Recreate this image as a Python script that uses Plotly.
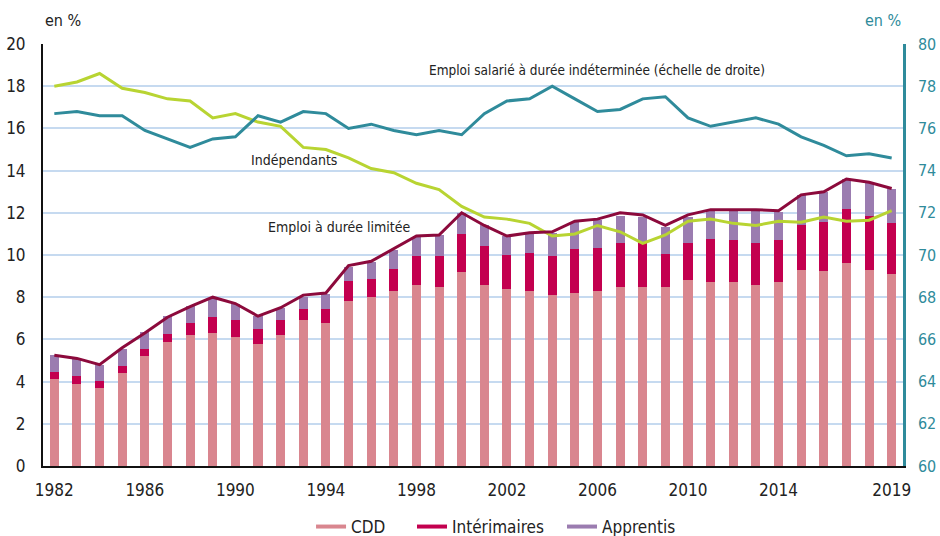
import plotly.graph_objects as go

years = list(range(1982, 2020))

cdd = [4.1, 3.9, 3.7, 4.4, 5.2, 5.9, 6.2, 6.3, 6.1, 5.8, 6.2, 6.9, 6.8, 7.8, 8.0, 8.3,
       8.6, 8.5, 9.2, 8.6, 8.4, 8.3, 8.1, 8.2, 8.3, 8.5, 8.5, 8.5, 8.8, 8.7, 8.7, 8.6,
       8.7, 9.3, 9.25, 9.6, 9.3, 9.1]
interim = [0.35, 0.35, 0.35, 0.35, 0.35, 0.35, 0.6, 0.75, 0.8, 0.7, 0.7, 0.55, 0.65, 0.95, 0.85, 1.05,
           1.35, 1.45, 1.8, 1.85, 1.6, 1.8, 1.85, 2.1, 2.05, 2.05, 2.05, 1.55, 1.75, 2.05, 2.0, 1.95,
           2.0, 2.1, 2.3, 2.6, 2.55, 2.4]
apprentis = [0.8, 0.8, 0.75, 0.8, 0.8, 0.85, 0.8, 0.9, 0.8, 0.6, 0.6, 0.55, 0.7, 0.7, 0.8, 0.9,
             0.9, 1.0, 1.0, 0.95, 0.9, 0.95, 1.1, 1.25, 1.3, 1.3, 1.25, 1.3, 1.25, 1.35, 1.45, 1.55,
             1.35, 1.45, 1.45, 1.4, 1.6, 1.65]
emploi_duree_limitee = [5.25, 5.1, 4.8, 5.6, 6.3, 7.05, 7.55, 8.0, 7.7, 7.1, 7.5, 8.1, 8.2, 9.5, 9.7, 10.3,
                        10.9, 10.95, 12.0, 11.4, 10.9, 11.05, 11.1, 11.6, 11.7, 12.0, 11.9, 11.4, 11.9, 12.15,
                        12.15, 12.15, 12.1, 12.85, 13.0, 13.6, 13.45, 13.15]
independants = [18.0, 18.2, 18.6, 17.9, 17.7, 17.4, 17.3, 16.5, 16.7, 16.3, 16.1, 15.1, 15.0, 14.6, 14.1, 13.9,
                13.4, 13.1, 12.3, 11.8, 11.7, 11.5, 10.9, 11.0, 11.4, 11.1, 10.55, 10.95, 11.6, 11.7,
                11.5, 11.4, 11.6, 11.55, 11.8, 11.6, 11.65, 12.1]
cdi = [76.7, 76.8, 76.6, 76.6, 75.9, 75.5, 75.1, 75.5, 75.6, 76.6, 76.3, 76.8, 76.7, 76.0, 76.2, 75.9,
       75.7, 75.9, 75.7, 76.7, 77.3, 77.4, 78.0, 77.4, 76.8, 76.9, 77.4, 77.5, 76.5, 76.1,
       76.3, 76.5, 76.2, 75.6, 75.2, 74.7, 74.8, 74.6]

tick_years = [1982, 1986, 1990, 1994, 1998, 2002, 2006, 2010, 2014, 2019]
left_ticks = list(range(0, 21, 2))
right_ticks = list(range(60, 81, 2))

C_CDD = "#d9868f"
C_INT = "#c3004f"
C_APP = "#9b7cb0"
C_EDL = "#8c0a3c"
C_IND = "#b8d432"
C_CDI = "#2f8b9b"
GRID = "#c6daf0"
FONT = "Liberation Sans Narrow, DejaVu Sans Condensed, Arial Narrow, sans-serif"

fig = go.Figure()
bar_w = 0.4
fig.add_trace(go.Bar(x=years, y=cdd, width=bar_w, marker=dict(color=C_CDD, line=dict(width=0)),
                     showlegend=False, name="CDD"))
fig.add_trace(go.Bar(x=years, y=interim, width=bar_w, marker=dict(color=C_INT, line=dict(width=0)),
                     showlegend=False, name="Intérimaires"))
fig.add_trace(go.Bar(x=years, y=apprentis, width=bar_w, marker=dict(color=C_APP, line=dict(width=0)),
                     showlegend=False, name="Apprentis"))

fig.add_trace(go.Scatter(x=years, y=independants, mode="lines", line=dict(color=C_IND, width=3),
                         showlegend=False, name="Indépendants"))
fig.add_trace(go.Scatter(x=years, y=emploi_duree_limitee, mode="lines", line=dict(color=C_EDL, width=3),
                         showlegend=False, name="Emploi à durée limitée"))
fig.add_trace(go.Scatter(x=years, y=cdi, mode="lines", line=dict(color=C_CDI, width=3), yaxis="y2",
                         showlegend=False, name="CDI"))

# legend entries as short lines, each in its own legend box
legend_defs = [("CDD", C_CDD, "legend", 0.3309),
               ("Intérimaires", C_INT, "legend2", 0.4383),
               ("Apprentis", C_APP, "legend3", 0.5979)]
for nm, col, lg, _ in legend_defs:
    fig.add_trace(go.Scatter(x=[None], y=[None], mode="lines", line=dict(color=col, width=4),
                             name=nm, legend=lg))

legend_layout = {}
for nm, col, lg, xpos in legend_defs:
    legend_layout[lg] = dict(orientation="h", xref="container", yref="container", x=xpos,
                             xanchor="left", y=0.0168, yanchor="middle", font=dict(size=17),
                             itemwidth=30, bgcolor="rgba(0,0,0,0)")

fig.update_layout(
    width=940, height=536,
    margin=dict(l=43, r=37, t=44, b=70, autoexpand=False),
    paper_bgcolor="white", plot_bgcolor="white",
    font=dict(family=FONT, size=17, color="#222222"),
    barmode="stack", bargap=0,
    xaxis=dict(range=[1981.5, 2019.5], tickvals=tick_years, ticktext=[str(t) for t in tick_years],
               showgrid=False, showline=True, linecolor="#111111", linewidth=2, ticks="",
               ticklabelstandoff=8, zeroline=False),
    yaxis=dict(range=[0, 20], tickvals=left_ticks, showgrid=True, gridcolor=GRID, gridwidth=1.5,
               showline=True, linecolor="#111111", linewidth=2, ticks="", zeroline=False,
               ticklabelstandoff=12),
    yaxis2=dict(range=[60, 80], tickvals=right_ticks, overlaying="y", side="right", showgrid=False,
                showline=True, linecolor=C_CDI, linewidth=2.5, ticks="", zeroline=False,
                tickfont=dict(color=C_CDI, size=16), ticklabelstandoff=9),
    annotations=[
        dict(text="en %", xref="paper", yref="paper", x=0, y=1, xanchor="left", yanchor="bottom",
             yshift=12, showarrow=False, font=dict(size=16)),
        dict(text="en %", xref="paper", yref="paper", x=1, y=1, xanchor="right", yanchor="bottom",
             yshift=12, showarrow=False, font=dict(size=16, color=C_CDI)),
        dict(text="Emploi salarié à durée indéterminée (échelle de droite)", x=2006.0, y=18.77,
             xref="x", yref="y", showarrow=False, font=dict(size=13.5)),
        dict(text="Indépendants", x=1992.6, y=14.5, xref="x", yref="y", showarrow=False,
             font=dict(size=14)),
        dict(text="Emploi à durée limitée", x=1994.6, y=11.33, xref="x", yref="y", showarrow=False,
             font=dict(size=14)),
    ],
    **legend_layout,
)

fig.write_html("out.html", config={"displayModeBar": False},
               post_script="document.body.style.margin='0';")
